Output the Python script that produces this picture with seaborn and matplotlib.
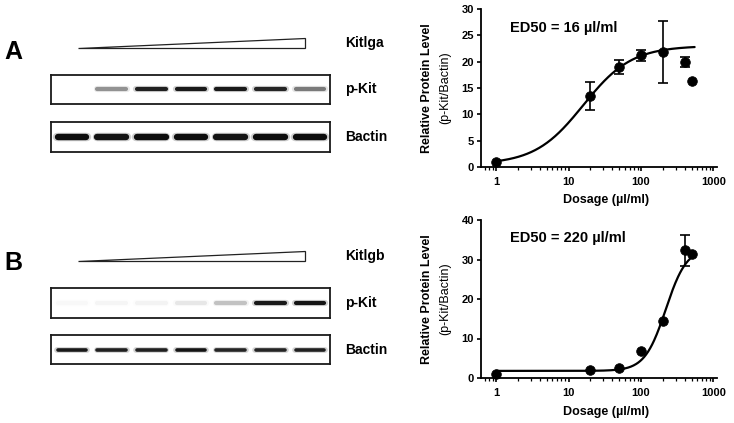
import numpy as np
import seaborn as sns
import matplotlib.pyplot as plt
from matplotlib.patches import Polygon
from matplotlib.ticker import LogLocator, NullFormatter, FixedLocator, FixedFormatter

# dose-response measurements (mean and error) for the two ligands
dose = [1, 20, 50, 100, 200, 400, 500]
kitlga_level = [1.0, 13.5, 19.0, 21.2, 21.9, 19.9, 16.3]
kitlga_err = [0, 2.7, 1.3, 1.0, 5.9, 1.0, 0]
kitlgb_level = [1.0, 2.0, 2.6, 6.8, 14.5, 32.3, 31.3]
kitlgb_err = [0, 0, 0, 0, 0, 3.9, 0]

# fitted 4-parameter curves: bottom, top, ED50, hill slope
fit_a = (0.5, 23.0, 16, 1.3)
fit_b = (1.8, 33.0, 220, 3.0)
curve_end = 550

# western blot band intensities per lane (0 = empty, 1 = dark)
pkit_a = [0.0, 0.45, 0.92, 0.95, 0.95, 0.9, 0.55]
bactin_a = [1.0, 0.97, 1.0, 1.0, 0.97, 1.0, 1.0]
pkit_b = [0.03, 0.04, 0.05, 0.1, 0.25, 0.95, 0.97]
bactin_b = [0.95, 0.92, 0.92, 0.97, 0.9, 0.9, 0.92]

sns.set_style("ticks")
plt.rcParams['font.family'] = ['Liberation Sans', 'DejaVu Sans']
plt.rcParams['text.color'] = 'black'
plt.rcParams['xtick.color'] = 'black'
plt.rcParams['ytick.color'] = 'black'
plt.rcParams['axes.edgecolor'] = 'black'

W, H = 734, 423
fig = plt.figure(figsize=(W / 100, H / 100), dpi=100)


def px_axes(x0, y0, x1, y1):
    return fig.add_axes([x0 / W, 1 - y1 / H, (x1 - x0) / W, (y1 - y0) / H])


def hill(x, p):
    bottom, top, ed50, h = p
    return bottom + (top - bottom) / (1 + (ed50 / x) ** h)


def draw_blot(ax, levels, thick):
    ax.set_xlim(-0.53, 6.5)
    ax.set_ylim(-1, 1)
    for i, v in enumerate(levels):
        if v <= 0:
            continue
        g = 1 - 0.95 * v
        ax.plot([i - 0.38, i + 0.38], [0, 0], color=str(g),
                lw=thick + 1.5, solid_capstyle='round', alpha=0.2)
        ax.plot([i - 0.36, i + 0.36], [0, 0], color=str(g),
                lw=thick, solid_capstyle='round')
    ax.set_xticks([])
    ax.set_yticks([])
    for s in ax.spines.values():
        s.set_linewidth(1.3)
        s.set_color('#1a1a1a')


def draw_triangle(ax):
    ax.set_xlim(0, 1)
    ax.set_ylim(0, 1)
    ax.add_patch(Polygon([(0, 0), (1, 0), (1, 1)], closed=True,
                         facecolor='white', edgecolor='#222222', lw=0.9,
                         clip_on=False))
    ax.axis('off')


def draw_curve(ax, level, err, fit, ymax, yticks):
    xs = np.logspace(0, np.log10(curve_end), 300)
    sns.lineplot(x=xs, y=hill(xs, fit), ax=ax, color='black', lw=1.6)
    d = np.array(dose)
    lv = np.array(level)
    e = np.array(err)
    m = e > 0
    ax.errorbar(d[m], lv[m], yerr=e[m], fmt='none', ecolor='black',
                elinewidth=1.2, capsize=3.6, capthick=1.2, zorder=3)
    sns.scatterplot(x=dose, y=level, ax=ax, color='black', s=48,
                    edgecolor='black', zorder=4, clip_on=False)
    ax.set_xscale('log')
    ax.set_xlim(0.62, 1120)
    ax.set_ylim(0, ymax)
    ax.set_yticks(yticks)
    ax.xaxis.set_major_locator(FixedLocator([1, 10, 100, 1000]))
    ax.xaxis.set_major_formatter(FixedFormatter(['1', '10', '100', '1000']))
    ax.xaxis.set_minor_locator(LogLocator(base=10, subs=np.arange(2, 10)))
    ax.xaxis.set_minor_formatter(NullFormatter())
    ax.tick_params(axis='both', which='major', direction='out', length=3,
                   width=1.2, labelsize=8, pad=2)
    ax.tick_params(axis='x', which='major', pad=4)
    ax.tick_params(axis='x', which='minor', direction='out', length=1.8,
                   width=0.9)
    for lab in ax.get_xticklabels() + ax.get_yticklabels():
        lab.set_fontweight('bold')
    sns.despine(ax=ax)
    for s in ['left', 'bottom']:
        ax.spines[s].set_linewidth(1.3)
    ax.set_xlabel('')
    ax.set_ylabel('')


def curve_labels(yc, ylab_y, ed50_text):
    fig.text(510 / W, 1 - ylab_y / H, ed50_text, fontsize=10.5,
             fontweight='bold', va='center')
    fig.text(427 / W, 1 - yc / H, 'Relative Protein Level', fontsize=9,
             fontweight='bold', rotation=90, ha='center', va='center')
    fig.text(445 / W, 1 - yc / H, '(p-Kit/Bactin)', fontsize=9,
             rotation=90, ha='center', va='center')


# ---- panel A ----
fig.text(4 / W, 1 - 52 / H, 'A', fontsize=18, fontweight='bold', va='center')
draw_triangle(px_axes(78, 38, 305, 48))
draw_blot(px_axes(51, 75, 330, 104), pkit_a, 3.0)
draw_blot(px_axes(51, 122, 330, 152), bactin_a, 4.6)
fig.text(345 / W, 1 - 43 / H, 'Kitlga', fontsize=10, fontweight='bold', va='center')
fig.text(345 / W, 1 - 89 / H, 'p-Kit', fontsize=10, fontweight='bold', va='center')
fig.text(345 / W, 1 - 137 / H, 'Bactin', fontsize=10, fontweight='bold', va='center')

axA = px_axes(481, 9, 717, 167)
draw_curve(axA, kitlga_level, kitlga_err, fit_a, 30, [0, 5, 10, 15, 20, 25, 30])
curve_labels(88, 28, 'ED50 = 16 µl/ml')
fig.text(606 / W, 1 - 200 / H, 'Dosage (µl/ml)', fontsize=9, fontweight='bold',
         ha='center', va='center')

# ---- panel B ----
fig.text(4 / W, 1 - 263 / H, 'B', fontsize=18, fontweight='bold', va='center')
draw_triangle(px_axes(78, 251, 305, 261))
draw_blot(px_axes(51, 288, 330, 318), pkit_b, 3.0)
draw_blot(px_axes(51, 335, 330, 364), bactin_b, 2.6)
fig.text(345 / W, 1 - 256 / H, 'Kitlgb', fontsize=10, fontweight='bold', va='center')
fig.text(345 / W, 1 - 303 / H, 'p-Kit', fontsize=10, fontweight='bold', va='center')
fig.text(345 / W, 1 - 350 / H, 'Bactin', fontsize=10, fontweight='bold', va='center')

axB = px_axes(481, 220, 717, 378)
draw_curve(axB, kitlgb_level, kitlgb_err, fit_b, 40, [0, 10, 20, 30, 40])
curve_labels(299, 238, 'ED50 = 220 µl/ml')
fig.text(606 / W, 1 - 412 / H, 'Dosage (µl/ml)', fontsize=9, fontweight='bold',
         ha='center', va='center')

fig.savefig('out.png', dpi=100, facecolor='white')
